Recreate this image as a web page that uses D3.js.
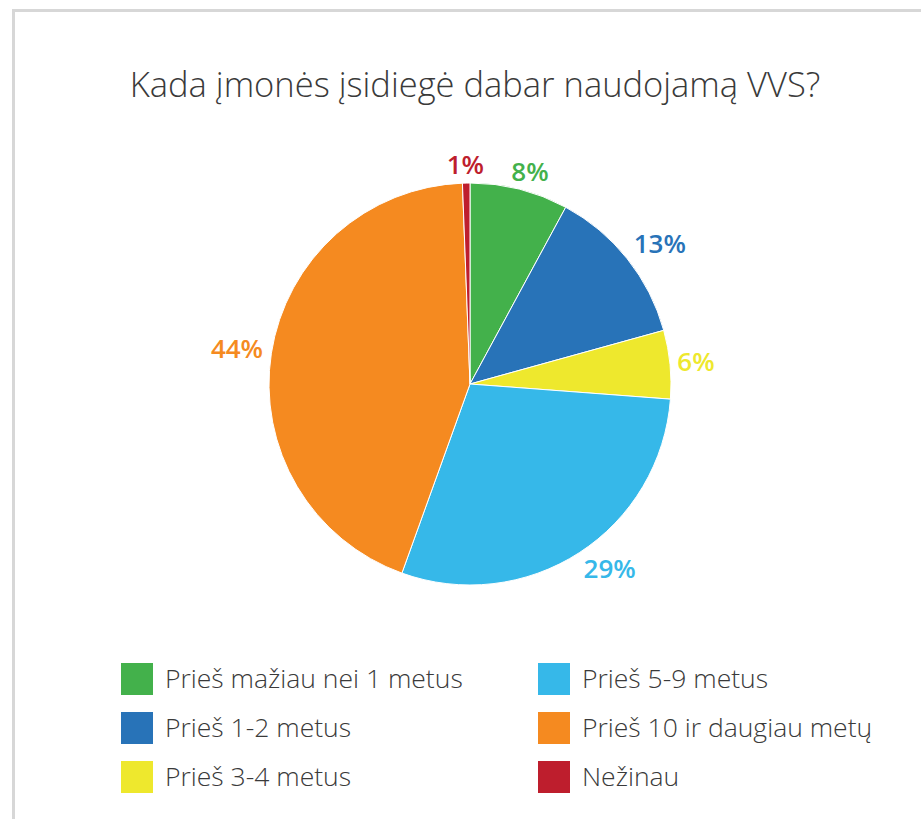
<!DOCTYPE html>
<html>
<head>
<meta charset="utf-8">
<script src="https://cdn.jsdelivr.net/npm/d3@7"></script>
<style>
  body { margin: 0; background: #fff; }
  svg { display: block; }
</style>
</head>
<body>
<svg id="svg"></svg>
<script>
// data (shares in %, labels are rounded)
const categories = ['Prieš mažiau nei 1 metus', 'Prieš 1-2 metus', 'Prieš 3-4 metus',
  'Prieš 5-9 metus', 'Prieš 10 ir daugiau metų', 'Nežinau'];
const values = [7.9, 12.8, 5.5, 29.3, 43.9, 0.6];
const labels = ['8%', '13%', '6%', '29%', '44%', '1%'];
const colors = ['#43b14b', '#2873b8', '#eee82d', '#36b8e9', '#f58a20', '#be1e2d'];

const width = 921;
const height = 819;
const cx = 470, cy = 384, radius = 201;

const svg = d3.select('#svg')
  .attr('width', width)
  .attr('height', height);

// frame
svg.append('rect')
  .attr('x', 13.5)
  .attr('y', 10.5)
  .attr('width', width + 20)
  .attr('height', height + 20)
  .attr('fill', 'none')
  .attr('stroke', '#d7d7d7')
  .attr('stroke-width', 3);

// title
svg.append('text')
  .attr('x', 475)
  .attr('y', 97)
  .attr('text-anchor', 'middle')
  .attr('font-family', 'Open Sans')
  .attr('font-weight', 300)
  .attr('font-size', '34.5px')
  .attr('fill', '#3a3a3a')
  .text('Kada įmonės įsidiegė dabar naudojamą VVS?');

const data = categories.map((c, i) => ({ cat: c, value: values[i], label: labels[i], color: colors[i] }));

const pie = d3.pie().sort(null).value(d => d.value);
const arcs = pie(data);

const arc = d3.arc().innerRadius(0).outerRadius(radius);

const g = svg.append('g').attr('transform', `translate(${cx}, ${cy})`);

g.selectAll('path')
  .data(arcs)
  .enter()
  .append('path')
  .attr('d', arc)
  .attr('fill', d => d.data.color)
  .attr('stroke', '#fff')
  .attr('stroke-width', 1);

// labels outside the slices: nearest corner of the label box sits just off the rim
const clamp = v => Math.max(-1, Math.min(1, v));
const lh = 18;
g.selectAll('.pct')
  .data(arcs)
  .enter()
  .append('text')
  .attr('class', 'pct')
  .attr('text-anchor', 'middle')
  .attr('dy', '0.35em')
  .attr('font-family', 'Open Sans')
  .attr('font-weight', 600)
  .attr('font-size', '26px')
  .attr('fill', d => d.data.color)
  .attr('transform', d => {
    const a = (d.startAngle + d.endAngle) / 2;
    const w = d.data.label.length * 17;
    const r = radius + 9;
    const x = Math.sin(a) * r + clamp(Math.sin(a) * 2) * w / 2;
    const y = -Math.cos(a) * r + clamp(-Math.cos(a) * 2) * lh / 2;
    return `translate(${x}, ${y})`;
  })
  .text(d => d.data.label);

// legend
const legend = svg.append('g');
const item = legend.selectAll('g')
  .data(data)
  .enter()
  .append('g')
  .attr('transform', (d, i) => `translate(${i < 3 ? 121 : 538}, ${663 + (i % 3) * 49})`);

item.append('rect')
  .attr('width', 32)
  .attr('height', 32)
  .attr('fill', d => d.color);

item.append('text')
  .attr('x', 44)
  .attr('y', 16)
  .attr('dy', '0.35em')
  .attr('font-family', 'Open Sans')
  .attr('font-weight', 300)
  .attr('font-size', '26.5px')
  .attr('fill', '#3a3a3a')
  .text(d => d.cat);
</script>
</body>
</html>
